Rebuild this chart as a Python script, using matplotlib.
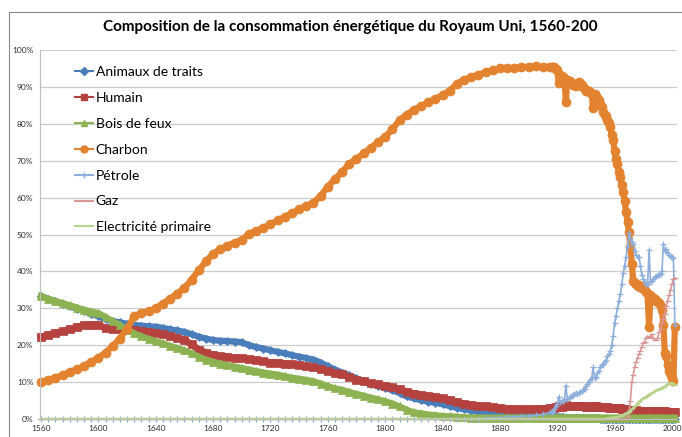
import matplotlib
matplotlib.use("Agg")
import matplotlib.pyplot as plt
from matplotlib.patches import Rectangle

plt.rcParams['font.family'] = ['Lato', 'DejaVu Sans']

TITLE = "Composition de la consommation énergétique du Royaum Uni, 1560-200"

# Years: every 5 years up to 1915, then yearly
YEARS = list(range(1560, 1916, 5)) + list(range(1916, 2003))

ANIMAUX = [
    33.3, 32.6, 31.9, 31.2, 30.6, 29.9, 29.2, 28.5,
    27.8, 27.0, 26.5, 26.2, 25.8, 25.5, 25.3, 25.1,
    25.0, 24.7, 24.3, 24.0, 23.6, 23.0, 22.3, 21.8,
    21.4, 21.2, 21.1, 21.0, 20.8, 20.0, 19.5, 19.1,
    18.6, 18.2, 17.8, 17.3, 16.9, 16.5, 16.1, 15.3,
    14.3, 13.4, 12.6, 11.8, 11.0, 10.3, 9.6, 9.0,
    8.4, 7.8, 7.0, 6.1, 5.6, 5.1, 4.7, 4.4,
    4.0, 3.5, 3.0, 2.6, 2.3, 2.0, 1.8, 1.6,
    1.4, 1.3, 1.2, 1.1, 1.0, 0.9, 0.8, 0.7,
    0.7, 0.7, 0.6, 0.6,
    0.6, 0.5, 0.5, 0.5, 0.5, 0.4, 0.4, 0.4, 0.4, 0.3,
    0.3, 0.3, 0.3, 0.3, 0.3, 0.3, 0.2, 0.2, 0.2, 0.2,
    0.2, 0.2, 0.2, 0.2, 0.2, 0.2, 0.2, 0.2, 0.2, 0.2,
    0.1, 0.1, 0.1, 0.1, 0.1, 0.1, 0.1, 0.1, 0.1, 0.1,
    0.1, 0.1, 0.1, 0.1, 0.1, 0.1, 0.1, 0.1, 0.1, 0.1,
    0.1, 0.1, 0.1, 0.1, 0.1, 0.1, 0.1, 0.1, 0.1, 0.1,
    0.1, 0.1, 0.1, 0.1, 0.1, 0.1, 0.1, 0.1, 0.1, 0.1,
    0.1, 0.1, 0.1, 0.1, 0.1, 0.1, 0.1, 0.1, 0.1, 0.1,
    0.1, 0.1, 0.0,
]

HUMAIN = [
    22.2, 22.8, 23.3, 23.8, 24.3, 24.9, 25.4, 25.6,
    25.5, 24.6, 24.5, 24.4, 24.2, 24.0, 23.8, 23.6,
    23.3, 23.0, 22.6, 22.0, 21.4, 20.2, 18.8, 18.0,
    17.4, 17.0, 16.8, 16.6, 16.5, 16.2, 16.0, 15.6,
    15.3, 15.2, 15.0, 14.8, 14.6, 14.3, 14.0, 13.6,
    13.0, 12.5, 12.1, 11.4, 10.7, 10.2, 9.7, 9.4,
    9.0, 8.6, 8.0, 7.4, 6.9, 6.5, 6.2, 5.9,
    5.6, 5.2, 4.6, 4.1, 3.8, 3.6, 3.4, 3.2,
    3.0, 2.8, 2.7, 2.6, 2.6, 2.7, 2.8, 3.0,
    3.0, 3.1, 3.1, 3.2,
    3.2, 3.4, 3.3, 3.3, 3.4, 3.4, 3.7, 3.5, 3.5, 3.5,
    3.5, 3.6, 3.6, 3.6, 3.5, 3.5, 3.4, 3.4, 3.4, 3.4,
    3.3, 3.3, 3.3, 3.3, 3.3, 3.4, 3.4, 3.4, 3.3, 3.3,
    3.3, 3.2, 3.2, 3.2, 3.2, 3.2, 3.1, 3.1, 3.1, 3.1,
    3.0, 3.0, 3.0, 2.9, 2.9, 2.8, 2.8, 2.7, 2.6, 2.5,
    2.5, 2.4, 2.4, 2.3, 2.4, 2.4, 2.3, 2.3, 2.3, 2.2,
    2.3, 2.3, 2.3, 2.3, 2.2, 2.2, 2.2, 2.2, 2.1, 2.1,
    2.1, 2.1, 2.1, 2.1, 2.1, 2.1, 2.0, 2.0, 2.0, 2.0,
    2.0, 2.0, 2.0,
]

BOIS = [
    33.3, 32.6, 32.0, 31.4, 30.8, 30.2, 29.6, 29.1,
    28.7, 27.6, 26.5, 25.5, 24.2, 23.2, 22.4, 21.7,
    21.1, 20.5, 19.8, 19.2, 18.6, 17.8, 16.9, 16.1,
    15.5, 15.0, 14.6, 14.2, 13.8, 13.4, 13.0, 12.6,
    12.3, 12.0, 11.6, 11.2, 10.9, 10.6, 10.2, 9.6,
    8.9, 8.3, 7.9, 7.3, 6.8, 6.3, 5.8, 5.3,
    4.8, 4.2, 3.4, 2.5, 1.8, 1.5, 1.2, 1.0,
    0.8, 0.7, 0.6, 0.5, 0.4, 0.4, 0.4, 0.4,
    0.4, 0.4, 0.4, 0.4, 0.4, 0.4, 0.4, 0.4,
    0.4, 0.4, 0.4, 0.4,
    0.4, 0.4, 0.4, 0.4, 0.4, 0.4, 0.4, 0.4, 0.4, 0.4,
    0.4, 0.4, 0.4, 0.4, 0.4, 0.4, 0.4, 0.4, 0.4, 0.4,
    0.4, 0.4, 0.4, 0.4, 0.4, 0.4, 0.4, 0.4, 0.4, 0.4,
    0.3, 0.3, 0.3, 0.3, 0.3, 0.3, 0.3, 0.3, 0.3, 0.3,
    0.3, 0.3, 0.3, 0.3, 0.3, 0.3, 0.3, 0.3, 0.3, 0.3,
    0.3, 0.3, 0.3, 0.3, 0.3, 0.3, 0.3, 0.3, 0.3, 0.3,
    0.3, 0.3, 0.3, 0.3, 0.3, 0.3, 0.3, 0.3, 0.3, 0.3,
    0.3, 0.3, 0.3, 0.3, 0.3, 0.3, 0.3, 0.3, 0.3, 0.3,
    0.3, 0.3, 0.3,
]

CHARBON = [
    10.0, 10.6, 11.2, 11.9, 12.7, 13.5, 14.4, 15.5,
    16.6, 18.0, 19.8, 21.8, 24.5, 27.8, 28.7, 29.2,
    30.0, 31.3, 32.6, 34.0, 35.5, 37.8, 40.3, 42.7,
    44.8, 46.0, 47.0, 47.8, 48.5, 50.2, 51.0, 51.8,
    52.8, 53.8, 54.8, 55.8, 56.8, 57.8, 58.6, 60.5,
    63.0, 65.0, 67.0, 69.2, 70.5, 72.0, 73.5, 75.0,
    76.5, 78.5, 81.0, 82.5, 83.8, 84.8, 85.8, 86.8,
    87.8, 89.0, 90.8, 92.0, 92.6, 93.3, 94.0, 94.5,
    95.0, 95.2, 95.1, 95.3, 95.5, 95.6, 95.4, 95.5,
    95.5, 95.5, 95.3, 94.8,
    94.5, 91.0, 93.2, 93.0, 92.6, 92.3, 86.0, 92.0, 91.6, 91.5,
    91.0, 90.6, 90.4, 90.2, 90.6, 91.2, 91.0, 90.5, 90.0, 89.5,
    89.0, 89.0, 88.8, 88.5, 88.0, 84.3, 88.0, 87.5, 87.0, 86.5,
    85.5, 84.5, 83.2, 82.5, 82.0, 81.0, 80.2, 79.0, 77.0, 75.5,
    72.5, 70.5, 69.0, 67.0, 65.5, 63.5, 61.5, 59.0, 56.0, 53.5,
    50.6, 46.5, 42.0, 37.5, 36.8, 36.5, 36.0, 36.2, 35.8, 35.5,
    35.5, 35.0, 34.5, 34.0, 25.0, 33.5, 33.0, 32.8, 32.5, 32.0,
    31.8, 31.5, 30.5, 29.5, 25.5, 18.0, 17.0, 14.5, 13.0, 12.0,
    11.0, 10.2, 25.0,
]

PETROLE = [
    0, 0, 0, 0, 0, 0, 0, 0,
    0, 0, 0, 0, 0, 0, 0, 0,
    0, 0, 0, 0, 0, 0, 0, 0,
    0, 0, 0, 0, 0, 0, 0, 0,
    0, 0, 0, 0, 0, 0, 0, 0,
    0, 0, 0, 0, 0, 0, 0, 0,
    0, 0, 0, 0, 0, 0, 0, 0,
    0, 0, 0, 0, 0, 0.1, 0.2, 0.3,
    0.4, 0.5, 0.6, 0.7, 0.8, 1.0, 1.3, 1.8,
    2.0, 2.2, 2.8, 3.5,
    4.0, 6.0, 4.5, 4.8, 5.0, 5.2, 9.0, 5.5, 5.8, 6.0,
    6.3, 6.6, 6.8, 7.0, 6.8, 7.0, 7.2, 7.5, 7.8, 8.2,
    9.0, 9.5, 10.0, 10.5, 11.0, 14.0, 11.0, 11.5, 12.5, 13.0,
    14.0, 14.5, 15.0, 15.5, 16.0, 17.0, 17.5, 18.5, 20.0, 22.5,
    26.0, 28.0, 30.0, 32.0, 34.0, 36.5, 39.5, 41.5, 44.0, 47.0,
    50.4, 49.0, 48.0, 47.5, 45.5, 44.5, 44.0, 44.0, 41.5, 39.0,
    38.0, 37.0, 36.3, 36.5, 45.8, 37.0, 37.5, 38.0, 38.5, 38.8,
    39.0, 39.0, 39.2, 40.0, 47.5, 45.5, 46.0, 45.0, 44.5, 44.0,
    44.0, 43.5, 25.5,
]

GAZ = [
    0, 0, 0, 0, 0, 0, 0, 0,
    0, 0, 0, 0, 0, 0, 0, 0,
    0, 0, 0, 0, 0, 0, 0, 0,
    0, 0, 0, 0, 0, 0, 0, 0,
    0, 0, 0, 0, 0, 0, 0, 0,
    0, 0, 0, 0, 0, 0, 0, 0,
    0, 0, 0, 0, 0, 0, 0, 0,
    0, 0, 0, 0, 0, 0, 0, 0,
    0, 0, 0, 0, 0, 0, 0, 0,
    0, 0, 0, 0,
    0, 0, 0, 0, 0, 0, 0, 0, 0, 0,
    0, 0, 0, 0, 0, 0, 0, 0, 0, 0,
    0, 0, 0, 0, 0, 0, 0, 0, 0, 0,
    0, 0, 0, 0, 0, 0, 0, 0, 0, 0,
    0, 0, 0, 0, 0, 0, 0, 0, 0, 0.5,
    2.0, 5.0, 10.0, 12.0, 14.0, 15.5, 16.5, 17.5, 18.5, 19.5,
    20.5, 21.0, 22.0, 22.5, 22.0, 22.3, 23.0, 22.0, 21.5, 21.4,
    22.0, 23.5, 24.5, 26.0, 27.0, 28.5, 30.5, 32.0, 33.5, 35.0,
    36.5, 38.0, 38.3,
]

ELEC = [
    0, 0, 0, 0, 0, 0, 0, 0,
    0, 0, 0, 0, 0, 0, 0, 0,
    0, 0, 0, 0, 0, 0, 0, 0,
    0, 0, 0, 0, 0, 0, 0, 0,
    0, 0, 0, 0, 0, 0, 0, 0,
    0, 0, 0, 0, 0, 0, 0, 0,
    0, 0, 0, 0, 0, 0, 0, 0,
    0, 0, 0, 0, 0, 0, 0, 0,
    0, 0, 0, 0, 0, 0, 0, 0,
    0, 0, 0, 0,
    0, 0, 0, 0, 0, 0, 0, 0, 0, 0,
    0, 0, 0, 0, 0, 0, 0, 0, 0, 0,
    0, 0, 0, 0, 0, 0, 0, 0, 0, 0,
    0, 0, 0, 0, 0, 0.2, 0.2, 0.3, 0.3, 0.4,
    0.4, 0.5, 0.5, 0.6, 0.8, 0.9, 1.1, 1.3, 1.5, 1.7,
    2.0, 2.3, 2.6, 3.0, 3.4, 3.8, 4.2, 4.6, 5.0, 5.3,
    5.6, 5.8, 6.0, 6.3, 6.6, 6.8, 7.0, 7.2, 7.5, 7.8,
    7.9, 8.0, 8.2, 8.4, 8.6, 8.8, 9.1, 9.4, 9.6, 9.7,
    9.7, 9.5, 9.3,
]

LABELS = ["Animaux de traits", "Humain", "Bois de feux", "Charbon",
          "Pétrole", "Gaz", "Electricité primaire"]
SERIES = [ANIMAUX, HUMAIN, BOIS, CHARBON, PETROLE, GAZ, ELEC]
COLORS = ["#4a7ebb", "#b5423f", "#8db251", "#e3822f",
          "#8eaedb", "#d99694", "#b9d48f"]
MARKERS = ["D", "s", "^", "o", "+", "_", "_"]
MSIZES = [4.5, 6, 6, 6.5, 5, 5, 3]
LWIDTHS = [4.5, 5, 4.5, 4.5, 1.2, 1.2, 1.8]

fig = plt.figure(figsize=(6.82, 4.37), dpi=100)
W, H = 682.0, 437.0
ax = fig.add_axes([40.3 / W, 1 - 419 / H, (677 - 40.3) / W, (419 - 50) / H])

handles = []
for vals, lab, col, mk, ms, lw in zip(SERIES, LABELS, COLORS, MARKERS, MSIZES, LWIDTHS):
    ax.plot(YEARS, vals, color=col, marker=mk, markersize=ms, lw=lw,
            markeredgecolor=col, markerfacecolor=col,
            markeredgewidth=0.9 if mk in ("+", "_") else 0.5,
            clip_on=False, solid_joinstyle="round")
    # legend proxy: thin line with marker, as in the reference
    h, = ax.plot([], [], color=col, marker=mk if mk != "_" else None,
                 markersize=min(ms, 5), lw=1.5, markeredgecolor=col,
                 markerfacecolor=col, label=lab)
    handles.append(h)

ax.set_xlim(1559.5, 2003.5)
ax.set_ylim(0, 100)
ax.set_xticks(range(1560, 2001, 40))
ax.set_yticks(range(0, 101, 10))
ax.set_yticklabels([f"{v}%" for v in range(0, 101, 10)])
ax.yaxis.grid(True, color="#cccccc", lw=0.9)
ax.set_axisbelow(True)
for s in ("top", "right"):
    ax.spines[s].set_visible(False)
for s in ("left", "bottom"):
    ax.spines[s].set_color("#bfbfbf")
    ax.spines[s].set_linewidth(0.8)
ax.tick_params(axis="both", length=0, labelsize=6, colors="#333333")
ax.tick_params(axis="y", pad=5)
ax.tick_params(axis="x", pad=4)

fig.text(350 / W, 1 - 27 / H, TITLE, ha="center", va="center",
         fontsize=11, fontweight="bold", color="#000000")

ax.legend(handles=handles, loc="upper left", bbox_to_anchor=(75 / W, 1 - 66 / H),
          bbox_transform=fig.transFigure, frameon=False, fontsize=10,
          handlelength=1.3, handletextpad=0.2, labelspacing=1.0,
          borderpad=0, borderaxespad=0)

fig.add_artist(Rectangle((9 / W, -0.5), 2.0, 0.5 + (1 - 12.3 / H),
                         transform=fig.transFigure, fill=False,
                         ec="#8a8a8a", lw=0.8))

fig.savefig("out.png", dpi=100)
